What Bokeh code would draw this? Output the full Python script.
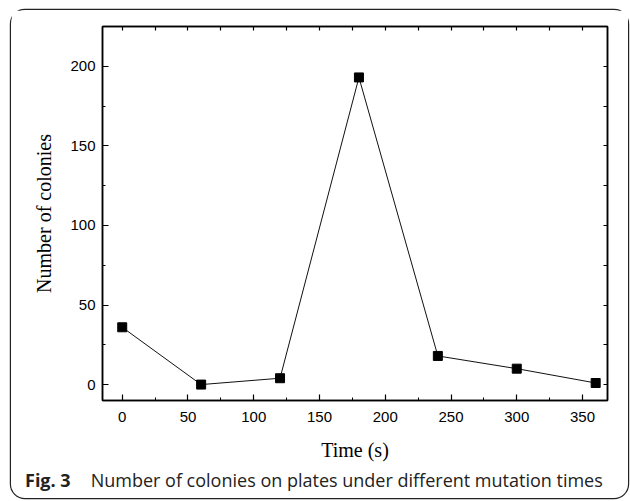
from bokeh.plotting import figure
from bokeh.models import LinearAxis, SingleIntervalTicker, Range1d, Div
from bokeh.layouts import column
from bokeh.embed import file_html
from bokeh.resources import INLINE

time_s = [0, 60, 120, 180, 240, 300, 360]
colonies = [36, 0, 4, 193, 18, 10, 1]

x_label = "Time (s)"
y_label = "Number of colonies"
caption_bold = "Fig. 3"
caption_text = "Number of colonies on plates under different mutation times"

p = figure(width=617, height=453, output_backend="svg", toolbar_location=None,
           x_range=Range1d(-15, 369), y_range=Range1d(-10, 225),
           x_axis_type=None, y_axis_type=None,
           min_border_left=91, min_border_right=21, min_border_top=16, min_border_bottom=62)
p.grid.visible = False
p.outline_line_color = "black"
p.outline_line_width = 1.5
p.background_fill_color = "white"
p.border_fill_color = "white"

def make_axis(interval, minor, label, show_labels, tin, min_in):
    ax = LinearAxis(ticker=SingleIntervalTicker(interval=interval, num_minor_ticks=minor))
    ax.axis_line_color = "black"
    ax.axis_line_width = 1.5
    ax.major_tick_in = tin
    ax.major_tick_out = 0
    ax.minor_tick_in = min_in
    ax.minor_tick_out = 0
    ax.major_tick_line_color = "black"
    ax.minor_tick_line_color = "black"
    ax.major_tick_line_width = 1.2
    ax.minor_tick_line_width = 1
    if show_labels:
        ax.major_label_text_font = "Liberation Sans"
        ax.major_label_text_font_size = "15px"
        ax.major_label_text_color = "black"
        ax.major_label_standoff = 7
    else:
        ax.major_label_text_font_size = "0px"
        ax.major_label_text_alpha = 0
    if label:
        ax.axis_label = label
        ax.axis_label_text_font = "Liberation Serif"
        ax.axis_label_text_font_size = "20px"
        ax.axis_label_text_font_style = "normal"
        ax.axis_label_text_color = "black"
        ax.axis_label_standoff = 10
    return ax

bottom = make_axis(50, 2, x_label, True, 6, 3)
bottom.major_label_standoff = 11
bottom.axis_label_standoff = 14
left = make_axis(50, 2, y_label, True, 6, 3)
left.axis_label_standoff = 12
top = make_axis(25, 0, None, False, 4, 0)
right = make_axis(25, 0, None, False, 4, 0)
p.add_layout(bottom, "below")
p.add_layout(left, "left")
p.add_layout(top, "above")
p.add_layout(right, "right")

p.line(time_s, colonies, line_color="#111", line_width=1)
p.scatter(time_s, colonies, marker="square", size=9, fill_color="black", line_color="black")

cap = Div(text='<div style="padding:1px 0 0 9px; line-height:18px; white-space:nowrap">'
               '<b style="margin-right:20px">' + caption_bold + '</b>' + caption_text + '</div>',
          width=617, height=35,
          styles={"font-family": "Open Sans", "font-size": "18px", "color": "#222"})

layout = column(p, cap, spacing=0, width=617, height=488,
                styles={"box-shadow": "0 0 0 1.2px #222", "border-radius": "14px",
                        "margin-left": "11px", "margin-top": "10px", "background": "white"})

open("out.html", "w").write(file_html(layout, INLINE))
